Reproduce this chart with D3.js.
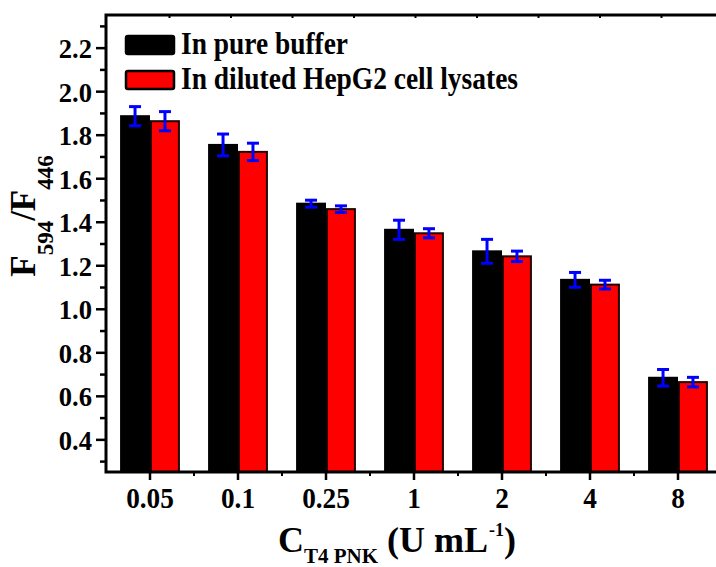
<!DOCTYPE html>
<html>
<head>
<meta charset="utf-8">
<script src="https://cdn.jsdelivr.net/npm/d3@7"></script>
<style>
	body { margin: 0; background: #fff; }
	svg { display: block; font-family: "Liberation Serif", "Times New Roman", serif; font-weight: bold; }
</style>
</head>
<body>
<div id="chart"></div>
<script>
const concentrations = ["0.05", "0.1", "0.25", "1", "2", "4", "8"]
const seriesNames = ["In pure buffer", "In diluted HepG2 cell lysates"]
const pureBuffer = [1.885, 1.753, 1.483, 1.363, 1.264, 1.133, 0.683]
const pureBufferErr = [0.044, 0.050, 0.016, 0.044, 0.055, 0.034, 0.038]
const lysates = [1.862, 1.721, 1.458, 1.347, 1.241, 1.111, 0.663]
const lysatesErr = [0.044, 0.040, 0.015, 0.021, 0.024, 0.020, 0.022]
const yTickValues = [0.4, 0.6, 0.8, 1.0, 1.2, 1.4, 1.6, 1.8, 2.0, 2.2]

const width = 716
const height = 567
const margin = { top: 15, left: 106, bottom: 472, right: 722 }

const svg = d3.select("#chart").append("svg")
	.attr("width", width)
	.attr("height", height)

// squeeze text sideways so it looks like the tall Times glyphs of the original
function condense(sel, k) {
	sel.each(function () {
		const w = this.getComputedTextLength()
		d3.select(this).attr("textLength", w * k).attr("lengthAdjust", "spacingAndGlyphs")
	})
}

const x = d3.scaleBand()
	.domain(concentrations)
	.range([margin.left, margin.right])
	.paddingInner(0.32)
	.paddingOuter(0.16)
const xInner = d3.scaleBand()
	.domain([0, 1])
	.range([0, x.bandwidth()])
const y = d3.scaleLinear()
	.domain([0.25, 2.35])
	.range([margin.bottom, margin.top])

const rows = concentrations.map((c, i) => [
	{ c, s: 0, v: pureBuffer[i], e: pureBufferErr[i] },
	{ c, s: 1, v: lysates[i], e: lysatesErr[i] }
]).flat()
const fills = ["#000000", "#ff0000"]
const strokes = ["#000000", "#200000"]

// bars
svg.append("g").selectAll("rect")
	.data(rows)
	.enter().append("rect")
		.attr("x", d => x(d.c) + xInner(d.s) + 1)
		.attr("y", d => y(d.v))
		.attr("width", xInner.bandwidth() - 2)
		.attr("height", d => y(0.25) - y(d.v))
		.attr("fill", d => fills[d.s])
		.attr("stroke", d => strokes[d.s])
		.attr("stroke-width", 2)

// error bars
const err = svg.append("g")
	.attr("stroke", "#0000ff")
	.attr("stroke-width", 3)
	.selectAll("g")
	.data(rows)
	.enter().append("g")
		.attr("transform", d => `translate(${x(d.c) + xInner(d.s) + xInner.bandwidth() / 2}, 0)`)
err.append("line")
	.attr("y1", d => y(d.v - d.e))
	.attr("y2", d => y(d.v + d.e))
err.append("line")
	.attr("x1", -6).attr("x2", 6)
	.attr("y1", d => y(d.v + d.e))
	.attr("y2", d => y(d.v + d.e))
err.append("line")
	.attr("x1", -6).attr("x2", 6)
	.attr("y1", d => y(d.v - d.e))
	.attr("y2", d => y(d.v - d.e))

// left axis
const yMinor = d3.range(3, 24).map(d => d / 10).filter(d => !yTickValues.some(t => Math.abs(t - d) < 1e-6))
const yAxisG = svg.append("g")
	.attr("transform", `translate(${margin.left}, 0)`)
yAxisG.append("g")
	.call(d3.axisLeft(y).tickValues(yMinor).tickSize(6).tickFormat(""))
yAxisG.append("g")
	.call(d3.axisLeft(y).tickValues(yTickValues).tickSize(10).tickPadding(4).tickFormat(d3.format(".1f")))
yAxisG.selectAll(".domain").remove()
yAxisG.selectAll("line").attr("stroke", "#000").attr("stroke-width", 2.5)
yAxisG.selectAll("text")
	.attr("font-size", 28)
	.attr("font-family", "Liberation Serif")
	.attr("font-weight", "bold")
	.attr("dy", "0.36em")
	.call(condense, 0.95)

// bottom axis
const xAxisG = svg.append("g")
	.attr("transform", `translate(0, ${margin.bottom})`)
xAxisG.append("g")
	.call(d3.axisBottom(x).tickSize(8).tickPadding(7))
xAxisG.selectAll(".domain").remove()
xAxisG.selectAll("line").attr("stroke", "#000").attr("stroke-width", 2.5)
xAxisG.selectAll("text")
	.attr("font-size", 29)
	.attr("font-family", "Liberation Serif")
	.attr("font-weight", "bold")
	.call(condense, 0.94)
xAxisG.append("g").selectAll("line")
	.data(concentrations.slice(1))
	.enter().append("line")
		.attr("x1", d => x(d) - x.step() / 2 + x.bandwidth() / 2)
		.attr("x2", d => x(d) - x.step() / 2 + x.bandwidth() / 2)
		.attr("y1", 0).attr("y2", 4)
		.attr("stroke", "#000").attr("stroke-width", 2)

// top axis ticks
const xTop = d3.scaleLinear().domain([0, 10]).range([107.5, 722.5])
const topG = svg.append("g")
	.attr("transform", `translate(0, ${margin.top})`)
	.call(d3.axisBottom(xTop).tickValues(d3.range(1, 10)).tickSize(3).tickFormat(""))
topG.selectAll(".domain").remove()
topG.selectAll("line").attr("stroke", "#000").attr("stroke-width", 2)

// frame
svg.append("path")
	.attr("d", `M${margin.right},${margin.top}H${margin.left}V${margin.bottom}H${margin.right}`)
	.attr("fill", "none")
	.attr("stroke", "#000")
	.attr("stroke-width", 3)

// legend
const legend = svg.append("g")
const legendY = [35, 70]
const legendWidths = [167, 337]
legend.selectAll("rect")
	.data(seriesNames)
	.enter().append("rect")
		.attr("x", 126).attr("y", (d, i) => legendY[i] + 1)
		.attr("width", 48).attr("height", 18)
		.attr("rx", 2)
		.attr("fill", (d, i) => fills[i])
		.attr("stroke", "#000")
		.attr("stroke-width", 2.5)
legend.selectAll("text")
	.data(seriesNames)
	.enter().append("text")
		.attr("x", 181).attr("y", (d, i) => legendY[i] + 18.5)
		.attr("font-size", 31)
		.attr("textLength", (d, i) => legendWidths[i])
		.attr("lengthAdjust", "spacingAndGlyphs")
		.text(d => d)

// y label
const yLabel = svg.append("text")
	.attr("transform", "translate(35, 216) rotate(-90)")
	.attr("text-anchor", "middle")
	.attr("font-size", 35)
yLabel.append("tspan").text("F")
yLabel.append("tspan").attr("font-size", 23).attr("dy", 18).text("594")
yLabel.append("tspan").attr("dy", -18).text("/F")
yLabel.append("tspan").attr("font-size", 23).attr("dy", 18).text("446")

// x label
const xLabel = svg.append("text")
	.attr("x", 278).attr("y", 552)
	.attr("font-size", 36)
xLabel.append("tspan").text("C")
xLabel.append("tspan").attr("font-size", 21).attr("dy", 11).text("T4 PNK")
xLabel.append("tspan").attr("dy", -11).text(" (U mL")
xLabel.append("tspan").attr("font-size", 18).attr("dx", 1).attr("dy", -16).text("-1")
xLabel.append("tspan").attr("dy", 16).text(")")
</script>
</body>
</html>
